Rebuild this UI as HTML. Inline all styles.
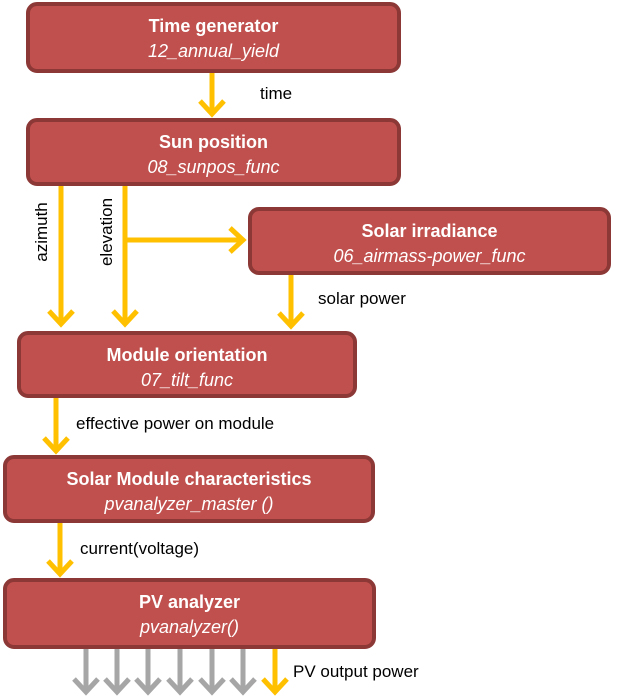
<!DOCTYPE html><html><head><style>
body{margin:0;width:624px;height:696px;background:#fff;position:relative;font-family:"Liberation Sans",sans-serif;overflow:hidden}
.b{position:absolute;box-sizing:border-box;background:#c0504d;border:4px solid #8c3836;border-radius:11px;color:#fff;text-align:center;padding-top:8px;font-size:18px;line-height:25px}
.b b{display:block}
.b i{display:block;font-size:18px}
.l{position:absolute;font-size:17px;color:#000;white-space:nowrap}
svg{position:absolute;left:0;top:0}
</style></head><body>
<svg width="624" height="696">
<g stroke="#ffc000" stroke-width="5" fill="none">
<path d="M212 72V114M200 101L212 114L224 101"/>
<path d="M61 185V324M49 311L61 324L73 311"/>
<path d="M125 185V324M113 311L125 324L137 311"/>
<path d="M125 240H243M230 228L243 240L230 252"/>
<path d="M291 274V326M279 313L291 326L303 313"/>
<path d="M56 397V451M44 438L56 451L68 438"/>
<path d="M60 522V574M48 561L60 574L72 561"/>
<path d="M275 648V692M263 679L275 692L287 679"/>
</g>
<g stroke="#a6a6a6" stroke-width="5" fill="none">
<path d="M86 648V692M74 679L86 692L98 679"/>
<path d="M117 648V692M105 679L117 692L129 679"/>
<path d="M148 648V692M136 679L148 692L160 679"/>
<path d="M180 648V692M168 679L180 692L192 679"/>
<path d="M212 648V692M200 679L212 692L224 679"/>
<path d="M243 648V692M231 679L243 692L255 679"/>
</g>
</svg>
<div class="b" style="left:26px;top:2px;width:375px;height:71px"><b>Time generator</b><i>12_annual_yield</i></div>
<div class="b" style="left:26px;top:118px;width:375px;height:68px"><b>Sun position</b><i>08_sunpos_func</i></div>
<div class="b" style="left:248px;top:207px;width:363px;height:68px"><b>Solar irradiance</b><i>06_airmass-power_func</i></div>
<div class="b" style="left:17px;top:331px;width:340px;height:67px"><b>Module orientation</b><i>07_tilt_func</i></div>
<div class="b" style="left:3px;top:455px;width:372px;height:68px"><b>Solar Module characteristics</b><i>pvanalyzer_master ()</i></div>
<div class="b" style="left:3px;top:578px;width:373px;height:71px"><b>PV analyzer</b><i>pvanalyzer()</i></div>
<div class="l" style="left:260px;top:84px">time</div>
<div class="l" style="left:318px;top:289px">solar power</div>
<div class="l" style="left:76px;top:414px">effective power on module</div>
<div class="l" style="left:80px;top:539px">current(voltage)</div>
<div class="l" style="left:293px;top:662px">PV output power</div>
<div class="l" style="left:2px;top:222px;transform:rotate(-90deg);transform-origin:center;width:80px;text-align:center">azimuth</div>
<div class="l" style="left:67px;top:222px;transform:rotate(-90deg);transform-origin:center;width:80px;text-align:center">elevation</div>
</body></html>
